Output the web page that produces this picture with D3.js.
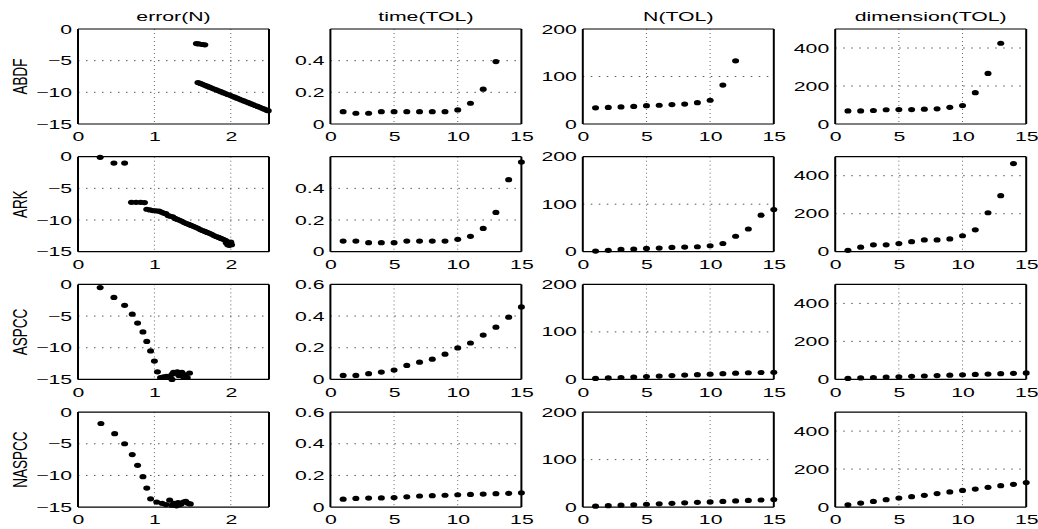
<!DOCTYPE html>
<html>
<head>
<meta charset="utf-8">
<script src="https://cdn.jsdelivr.net/npm/d3@7"></script>
<style>
  body { margin: 0; background: #fff; }
  text { font-family: "Liberation Sans", Arial, sans-serif; fill: #000; }
</style>
</head>
<body>
<div id="chart"></div>
<script>
var methods = ["ABDF", "ARK", "ASPCC", "NASPCC"];
var titles = ["error(N)", "time(TOL)", "N(TOL)", "dimension(TOL)"];

// error(N): x = log10 N, y = log10 error
var errX = [
  [1.55, 1.58, 1.63, 1.66,
   1.57, 1.60, 1.63, 1.66, 1.69, 1.72, 1.75, 1.78, 1.81, 1.84, 1.87, 1.90, 1.93, 1.96, 1.99, 2.02,
   2.05, 2.08, 2.11, 2.14, 2.17, 2.20, 2.23, 2.26, 2.29, 2.32, 2.35, 2.38, 2.41, 2.44, 2.47, 2.49],
  [0.29, 0.47, 0.61, 0.70, 0.76, 0.82, 0.87, 0.90, 0.94, 0.98, 1.02, 1.06, 1.09, 1.12, 1.15, 1.18,
   1.21, 1.24, 1.27, 1.30, 1.33, 1.36, 1.39, 1.42, 1.45, 1.48, 1.51, 1.54, 1.57, 1.60, 1.63, 1.66,
   1.69, 1.72, 1.75, 1.78, 1.81, 1.84, 1.87, 1.90, 1.93, 1.95, 1.97, 1.99, 1.96, 1.98, 2.00, 2.01, 1.94],
  [0.29, 0.47, 0.61, 0.71, 0.78, 0.85, 0.90, 0.95, 1.00, 1.04, 1.08, 1.12, 1.16, 1.20, 1.23, 1.25,
   1.28, 1.30, 1.32, 1.34, 1.36, 1.38, 1.40, 1.43, 1.46, 1.23],
  [0.30, 0.48, 0.61, 0.71, 0.78, 0.85, 0.90, 0.95, 1.03, 1.10, 1.15, 1.20, 1.23, 1.26, 1.29, 1.31,
   1.33, 1.35, 1.38, 1.41, 1.44, 1.47]
];
var errY = [
  [-2.3, -2.35, -2.45, -2.5,
   -8.45, -8.60, -8.74, -8.89, -9.03, -9.18, -9.32, -9.47, -9.61, -9.76, -9.90, -10.05, -10.19, -10.34, -10.48, -10.63,
   -10.77, -10.92, -11.06, -11.21, -11.35, -11.50, -11.64, -11.79, -11.93, -12.08, -12.22, -12.37, -12.52, -12.66, -12.81, -12.90],
  [-0.1, -1.0, -1.0, -7.2, -7.2, -7.2, -7.25, -8.3, -8.4, -8.5, -8.55, -8.6, -8.75, -8.9, -9.0, -9.3,
   -9.4, -9.5, -9.75, -9.9, -10.05, -10.2, -10.4, -10.55, -10.7, -10.85, -11.0, -11.15, -11.3, -11.5, -11.65, -11.8,
   -11.95, -12.1, -12.25, -12.45, -12.6, -12.75, -12.9, -13.05, -13.2, -13.4, -13.6, -13.8, -13.9, -14.0, -13.5, -13.9, -13.6],
  [-0.5, -2.05, -3.3, -4.7, -6.1, -7.5, -9.0, -10.5, -12.1, -13.8, -14.7, -14.6, -14.5, -14.6, -14.2, -13.9,
   -14.0, -13.8, -14.4, -14.1, -13.9, -14.6, -14.3, -14.7, -14.0, -15.0],
  [-1.8, -3.4, -5.0, -6.7, -8.4, -10.2, -12.0, -13.7, -14.2, -14.4, -14.6, -13.9, -14.7, -14.4, -14.8, -14.3,
   -14.6, -14.5, -14.2, -14.1, -14.4, -14.5]
];

// values against TOL index 1..n
var timeVals = [
  [0.078, 0.068, 0.068, 0.078, 0.078, 0.078, 0.078, 0.078, 0.078, 0.089, 0.131, 0.22, 0.394],
  [0.067, 0.067, 0.057, 0.057, 0.057, 0.067, 0.067, 0.067, 0.067, 0.078, 0.097, 0.147, 0.248, 0.455, 0.566],
  [0.025, 0.025, 0.036, 0.046, 0.059, 0.088, 0.109, 0.128, 0.159, 0.199, 0.23, 0.28, 0.33, 0.393, 0.458],
  [0.05, 0.055, 0.057, 0.058, 0.06, 0.065, 0.07, 0.072, 0.075, 0.078, 0.08, 0.082, 0.085, 0.087, 0.09]
];
var nVals = [
  [34, 35, 36, 37, 38.5, 39.5, 41, 42, 45, 50, 82, 133],
  [1.4, 2.8, 4.8, 5.5, 6.9, 7.6, 9, 9.7, 10.4, 12.5, 17.3, 32.5, 47.8, 76.8, 88.6],
  [2, 3, 4, 5, 6, 7, 8, 9, 10, 11, 12, 13, 14, 14.5, 15],
  [2, 3, 4, 5, 6, 7, 8, 9, 10, 11, 12, 13, 14, 15, 16]
];
var dimVals = [
  [69, 69, 71, 75, 76, 76, 78, 80, 88, 97, 165, 266, 425],
  [7, 24, 36, 36, 43, 53, 62, 62, 67, 84, 115, 205, 295, 464],
  [5, 8, 10, 12, 14, 16, 18, 20, 22, 24, 26, 28, 30, 32, 34],
  [12, 21, 30, 39, 48, 55, 62, 71, 80, 88, 95, 104, 113, 120, 129]
];

var logNTicks = [0, 1, 2];
var tolTicks = [0, 5, 10, 15];
var errTicks = [0, -5, -10, -15];
var timeTicksShort = [0, 0.2, 0.4];
var timeTicks = [0, 0.2, 0.4, 0.6];
var nTicks = [0, 100, 200];
var dimTicks = [0, 200, 400];

var width = 1038, height = 529;
var colLeft = 78, colStep = 252.4, plotW = 191;
var rowTop = 29, rowStep = 127.7, plotH = 95;
var sx = 1.7; // horizontal stretch of the glyphs

var svg = d3.select("#chart").append("svg")
  .attr("width", width)
  .attr("height", height);

var fmt = function(d) { return String(d).replace("-", "\u2212"); };

function panelSpec(r, c) {
  if (c == 0) {
    return { xDom: [0, 2.5], xt: logNTicks, yDom: [-15, 0], yt: errTicks,
      pts: errX[r].map(function(x, i) { return [x, errY[r][i]]; }) };
  }
  var vals = c == 1 ? timeVals[r] : c == 2 ? nVals[r] : dimVals[r];
  var yDom = c == 1 ? [0, 0.6] : c == 2 ? [0, 200] : [0, 500];
  var yt = c == 1 ? (r < 2 ? timeTicksShort : timeTicks) : c == 2 ? nTicks : dimTicks;
  return { xDom: [0, 15], xt: tolTicks, yDom: yDom, yt: yt,
    pts: vals.map(function(v, i) { return [i + 1, v]; }) };
}

for (var r = 0; r < 4; r++) {
  for (var c = 0; c < 4; c++) {
    var spec = panelSpec(r, c);
    var x0 = colLeft + c * colStep, y0 = rowTop + r * rowStep;
    var g = svg.append("g").attr("transform", "translate(" + x0 + "," + y0 + ")");

    var x = d3.scaleLinear().domain(spec.xDom).range([0, plotW]);
    var y = d3.scaleLinear().domain(spec.yDom).range([plotH, 0]);

    // dotted grid
    g.selectAll(".vg").data(spec.xt.filter(function(d) { return d > spec.xDom[0] && d < spec.xDom[1]; }))
      .enter().append("line")
      .attr("x1", function(d) { return x(d); }).attr("x2", function(d) { return x(d); })
      .attr("y1", 0).attr("y2", plotH)
      .attr("stroke", "#666").attr("stroke-width", 1).attr("stroke-dasharray", "1,3");
    g.selectAll(".hg").data(spec.yt.filter(function(d) { return d > spec.yDom[0] && d < spec.yDom[1]; }))
      .enter().append("line")
      .attr("x1", 0).attr("x2", plotW)
      .attr("y1", function(d) { return y(d); }).attr("y2", function(d) { return y(d); })
      .attr("stroke", "#555").attr("stroke-width", 1).attr("stroke-dasharray", "1.5,6.5");

    // axes
    var xa = g.append("g").attr("transform", "translate(0," + plotH + ")")
      .call(d3.axisBottom(x).tickValues(spec.xt).tickSize(0).tickPadding(8.5).tickFormat(fmt));
    var ya = g.append("g")
      .call(d3.axisLeft(y).tickValues(spec.yt).tickSize(0).tickPadding(3.5).tickFormat(fmt));
    [xa, ya].forEach(function(a) {
      a.select(".domain").remove();
      a.attr("font-size", 12.5).attr("font-family", "'Liberation Sans', Arial, sans-serif");
      a.selectAll("text").attr("transform", "scale(" + sx + ",1)");
    });

    // box
    g.append("line").attr("x1", 0).attr("x2", plotW).attr("y1", 0).attr("y2", 0)
      .attr("stroke", "#000").attr("stroke-width", 1.2);
    g.append("line").attr("x1", 0).attr("x2", plotW).attr("y1", plotH).attr("y2", plotH)
      .attr("stroke", "#000").attr("stroke-width", 1.2);
    g.append("line").attr("x1", 0).attr("x2", 0).attr("y1", 0).attr("y2", plotH)
      .attr("stroke", "#000").attr("stroke-width", 2);
    g.append("line").attr("x1", plotW).attr("x2", plotW).attr("y1", 0).attr("y2", plotH)
      .attr("stroke", "#000").attr("stroke-width", 2);

    // markers
    g.selectAll(".pt").data(spec.pts).enter().append("ellipse")
      .attr("cx", function(d) { return x(d[0]); })
      .attr("cy", function(d) { return y(d[1]); })
      .attr("rx", 3.5).attr("ry", 2.6)
      .attr("fill", "#000");

    if (r == 0) {
      svg.append("text")
        .attr("transform", "translate(" + (x0 + plotW / 2) + ",21) scale(" + sx + ",1)")
        .attr("text-anchor", "middle")
        .attr("font-size", 12.5)
        .text(titles[c]);
    }
    if (c == 0) {
      svg.append("text")
        .attr("transform", "translate(21," + (y0 + plotH / 2) + ") scale(1.45,1) rotate(-90)")
        .attr("text-anchor", "middle")
        .attr("dominant-baseline", "central")
        .attr("font-size", 13.5)
        .text(methods[r]);
    }
  }
}
</script>
</body>
</html>
